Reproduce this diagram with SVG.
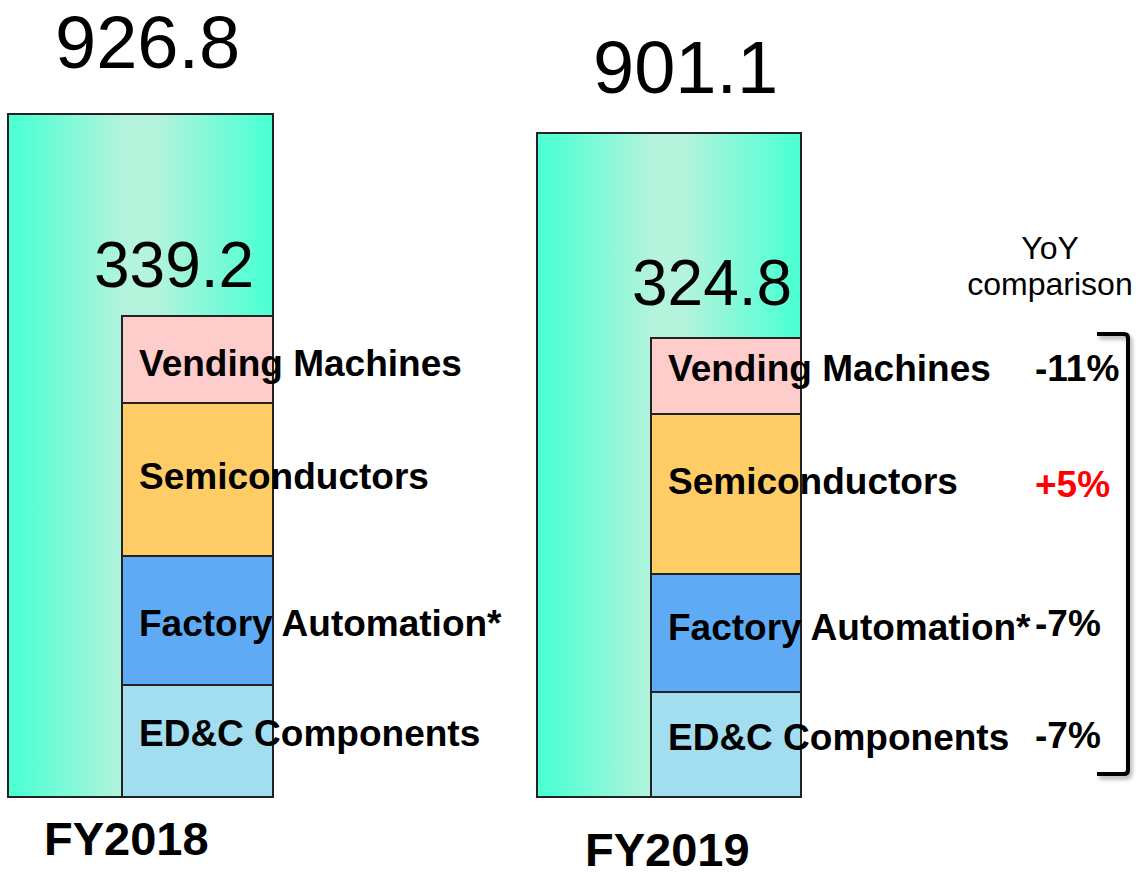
<svg xmlns="http://www.w3.org/2000/svg" width="1144" height="879" viewBox="0 0 1144 879">
<defs>
<linearGradient id="teal" x1="0" y1="0" x2="1" y2="0">
<stop offset="0" stop-color="#4dffd2"/>
<stop offset="0.06" stop-color="#55ffd4"/>
<stop offset="0.44" stop-color="#b4f3dc"/>
<stop offset="0.56" stop-color="#b4f3dc"/>
<stop offset="0.94" stop-color="#55ffd4"/>
<stop offset="1" stop-color="#4dffd2"/>
</linearGradient>
<filter id="sh" x="-50%" y="-10%" width="200%" height="120%">
<feGaussianBlur in="SourceAlpha" stdDeviation="2"/>
<feOffset dx="2" dy="3" result="b"/>
<feComponentTransfer><feFuncA type="linear" slope="0.35"/></feComponentTransfer>
<feMerge><feMergeNode/><feMergeNode in="SourceGraphic"/></feMerge>
</filter>
</defs>
<style>
.big{fill:url(#teal);stroke:#222;stroke-width:2}
.seg{stroke:#222;stroke-width:2}
.vm{fill:#ffcccc}.sc{fill:#ffcc66}.fa{fill:#5eaaf5}.ed{fill:#a3ddf0}
.lbl{font-family:"Liberation Sans",Arial,sans-serif;font-weight:bold;font-size:37px;fill:#000}
.num{font-family:"Liberation Sans",Arial,sans-serif;font-size:64px;fill:#000}
.tot{font-family:"Liberation Sans",Arial,sans-serif;font-size:74px;fill:#000}
.fy{font-family:"Liberation Sans",Arial,sans-serif;font-weight:bold;font-size:47px;fill:#000}
.yoy{font-family:"Liberation Sans",Arial,sans-serif;font-size:32px;fill:#000}
.pct{font-family:"Liberation Sans",Arial,sans-serif;font-weight:bold;font-size:37px;fill:#000}
</style>
<g id="fy2018">
<rect class="big" x="8" y="114" width="265" height="683"/>
<text class="tot" x="55" y="68">926.8</text>
<text class="num" x="94" y="287">339.2</text>
<g id="fy2018-vending"><rect class="seg vm" x="122" y="316" width="151" height="87"/><text class="lbl" x="139" y="376">Vending Machines</text></g>
<g id="fy2018-semi"><rect class="seg sc" x="122" y="403" width="151" height="153"/><text class="lbl" x="139" y="489">Semiconductors</text></g>
<g id="fy2018-fa"><rect class="seg fa" x="122" y="556" width="151" height="129"/><text class="lbl" x="139" y="636">Factory Automation*</text></g>
<g id="fy2018-edc"><rect class="seg ed" x="122" y="685" width="151" height="112"/><text class="lbl" x="139" y="746">ED&amp;C Components</text></g>
<text class="fy" x="44" y="855">FY2018</text>
</g>
<g id="fy2019">
<rect class="big" x="537" y="133" width="264" height="664"/>
<text class="tot" x="593" y="93">901.1</text>
<text class="num" x="632" y="305">324.8</text>
<g id="fy2019-vending"><rect class="seg vm" x="651" y="338" width="150" height="76"/><text class="lbl" x="668" y="381">Vending Machines</text></g>
<g id="fy2019-semi"><rect class="seg sc" x="651" y="414" width="150" height="160"/><text class="lbl" x="668" y="494">Semiconductors</text></g>
<g id="fy2019-fa"><rect class="seg fa" x="651" y="574" width="150" height="118"/><text class="lbl" x="668" y="640">Factory Automation*</text></g>
<g id="fy2019-edc"><rect class="seg ed" x="651" y="692" width="150" height="105"/><text class="lbl" x="668" y="750">ED&amp;C Components</text></g>
<text class="fy" x="585" y="866">FY2019</text>
</g>
<g id="yoy">
<text class="yoy" x="1050" y="259" text-anchor="middle">YoY</text>
<text class="yoy" x="1050" y="295" text-anchor="middle">comparison</text>
<text class="pct" x="1035" y="381">-11%</text>
<text class="pct" x="1035" y="497" style="fill:#ff0000">+5%</text>
<text class="pct" x="1035" y="636">-7%</text>
<text class="pct" x="1035" y="748">-7%</text>
</g>
<g id="connectors">
<path d="M1097 334 H1124 Q1128 334 1128 338 V770 Q1128 774 1124 774 H1097" fill="none" stroke="#000" stroke-width="4" filter="url(#sh)"/>
</g>
</svg>
